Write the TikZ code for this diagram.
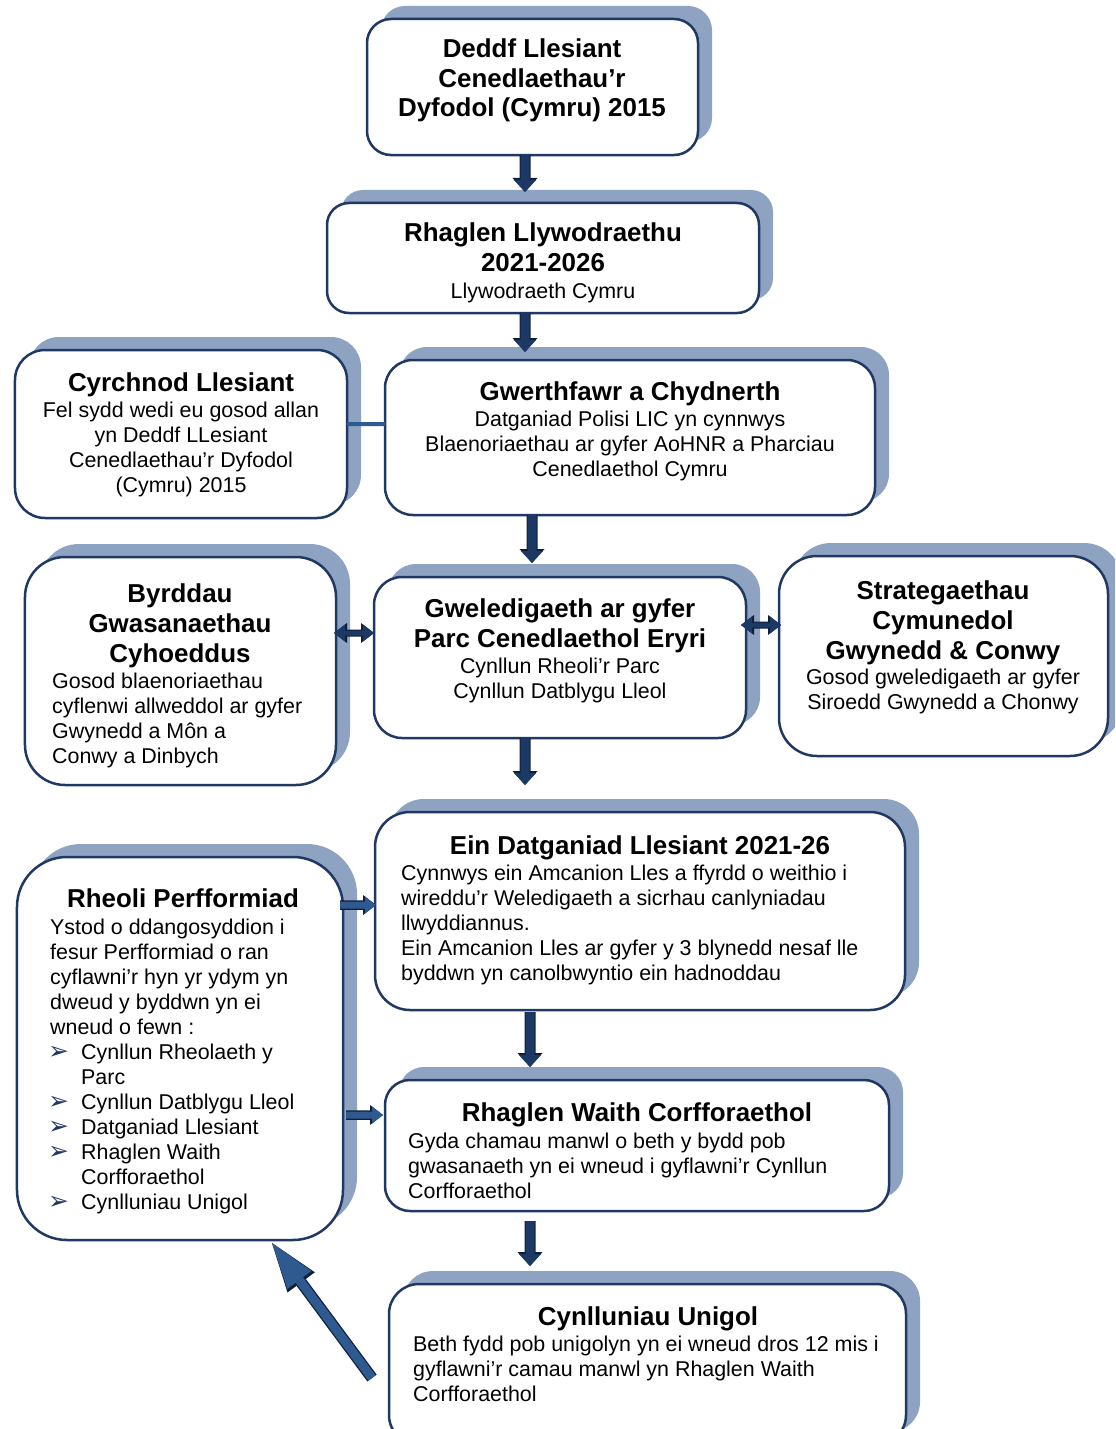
\documentclass[tikz,border=0pt]{standalone}
\usepackage{fontspec}
\setmainfont{Liberation Sans}
\newfontfamily\dejavu{DejaVu Sans}
\usetikzlibrary{arrows.meta,shadows}
\definecolor{framec}{HTML}{1F3864}
\definecolor{shadowc}{HTML}{8EA3C2}
\definecolor{navyarrow}{HTML}{1C3966}
\definecolor{bluearrow}{HTML}{2F5A8F}
\definecolor{outlinec}{HTML}{0F1E38}
\definecolor{linkc}{HTML}{2E5A94}
\tikzset{
  panel/.style={draw=framec, line width=2.5bp, fill=white, inner sep=0pt, outer sep=0pt,
    general shadow={fill=shadowc, shadow xshift=14bp, shadow yshift=13bp}},
  ttl/.style={font=\fontsize{26}{30}\selectfont\bfseries, align=center, inner sep=0pt, anchor=base},
  bodyc/.style={font=\fontsize{21.5}{25}\selectfont, align=center, inner sep=0pt, anchor=base},
  bodyl/.style={font=\fontsize{21.5}{25}\selectfont, align=left, inner sep=0pt, anchor=base west},
  bullets/.style={font=\fontsize{25}{25}\selectfont\dejavu, text=framec, align=left, inner sep=0pt, anchor=base west},
  navyarr/.style={draw=navyarrow, line width=9bp,
    -{Triangle[width=22bp,length=12bp,line width=0pt]},
    preaction={draw=outlinec, line width=11bp, -{Triangle[width=25bp,length=14bp,line width=0pt]}}},
  dblarr/.style={draw=navyarrow, line width=5bp,
    {Triangle[width=17bp,length=11bp,line width=0pt]}-{Triangle[width=17bp,length=11bp,line width=0pt]},
    preaction={draw=outlinec, line width=7bp, {Triangle[width=20bp,length=13bp,line width=0pt]}-{Triangle[width=20bp,length=13bp,line width=0pt]}}},
  bluearr/.style={draw=bluearrow, line width=7bp,
    -{Triangle[width=17bp,length=11bp,line width=0pt]},
    preaction={draw=outlinec, line width=9.5bp, -{Triangle[width=20bp,length=13bp,line width=0pt]}}},
  bigarr/.style={draw=bluearrow, line width=9bp,
    -{Triangle[width=30bp,length=46bp,line width=0pt]},
    preaction={draw=outlinec, line width=11.5bp, -{Triangle[width=34bp,length=49bp,line width=0pt]}}},
  linkline/.style={draw=linkc, line width=4bp},
}
\begin{document}
\begin{tikzpicture}[x=1bp,y=-1bp]
\useasboundingbox (0,0) rectangle (1115,1429);
\clip (0,0) rectangle (1115,1429);
\fill[white] (0,0) rectangle (1115,1429);

% panels
\node[panel, rounded corners=24bp, minimum width=331bp, minimum height=136bp] (deddf) at (532.5,87) {};
\node[panel, rounded corners=22bp, minimum width=432bp, minimum height=110bp] (rhag) at (543,258) {};
\node[panel, rounded corners=30bp, minimum width=332bp, minimum height=168bp] (cyrch) at (181,434) {};
\node[panel, rounded corners=28bp, minimum width=490bp, minimum height=155bp] (gwer) at (630,437.5) {};
\node[panel, rounded corners=40bp, minimum width=311bp, minimum height=228bp] (byrdd) at (180.5,671) {};
\node[panel, rounded corners=28bp, minimum width=372bp, minimum height=161bp] (gwel) at (560,657.5) {};
\node[panel, rounded corners=38bp, minimum width=329bp, minimum height=200bp] (strat) at (943.5,656) {};
\node[panel, rounded corners=35bp, minimum width=530bp, minimum height=198bp] (ein) at (640,911) {};
\node[panel, rounded corners=50bp, minimum width=326bp, minimum height=383bp] (rheoli) at (180,1048.5) {};
\node[panel, rounded corners=25bp, minimum width=504bp, minimum height=131bp] (waith) at (637,1145.5) {};
\node[panel, rounded corners=30bp, minimum width=517bp, minimum height=161bp] (cynll) at (647.5,1364.5) {};

% texts (anchor = baseline of the last line)
\node[ttl] (t1) at (532,117) {Deddf Llesiant\\Cenedlaethau’r\\Dyfodol (Cymru) 2015};
\node[ttl] (t2) at (543,271) {Rhaglen Llywodraethu\\2021-2026};
\node[bodyc] (b2) at (543,298) {Llywodraeth Cymru};
\node[ttl] (t3) at (181,391) {Cyrchnod Llesiant};
\node[bodyc] (b3) at (181,492) {Fel sydd wedi eu gosod allan\\yn Deddf LLesiant\\Cenedlaethau’r Dyfodol\\(Cymru) 2015};
\node[ttl] (t4) at (630,400) {Gwerthfawr a Chydnerth};
\node[bodyc] (b4) at (630,476) {Datganiad Polisi LIC yn cynnwys\\Blaenoriaethau ar gyfer AoHNR a Pharciau\\Cenedlaethol Cymru};
\node[ttl] (t5) at (180,662) {Byrddau\\Gwasanaethau\\Cyhoeddus};
\node[bodyl] (b5) at (52,763) {Gosod blaenoriaethau\\cyflenwi allweddol ar gyfer\\Gwynedd a Môn a\\Conwy a Dinbych};
\node[ttl] (t6) at (560,647) {Gweledigaeth ar gyfer\\Parc Cenedlaethol Eryri};
\node[bodyc] (b6) at (560,698) {Cynllun Rheoli’r Parc\\Cynllun Datblygu Lleol};
\node[ttl] (t7) at (943,659) {Strategaethau\\Cymunedol\\Gwynedd \& Conwy};
\node[bodyc] (b7) at (943,709) {Gosod gweledigaeth ar gyfer\\Siroedd Gwynedd a Chonwy};
\node[ttl] (t8) at (640,854) {Ein Datganiad Llesiant 2021-26};
\node[bodyl] (b8) at (401,980) {Cynnwys ein Amcanion Lles a ffyrdd o weithio i\\wireddu’r Weledigaeth a sicrhau canlyniadau\\llwyddiannus.\\Ein Amcanion Lles ar gyfer y 3 blynedd nesaf lle\\byddwn yn canolbwyntio ein hadnoddau};
\node[ttl] (t9) at (183,907) {Rheoli Perfformiad};
\node[bodyl] (b9) at (50,1034) {Ystod o ddangosyddion i\\fesur Perfformiad o ran\\cyflawni’r hyn yr ydym yn\\dweud y byddwn yn ei\\wneud o fewn :};
\node[bullets] (m9) at (48,1209) {➢\\\mbox{}\\➢\\➢\\➢\\\mbox{}\\➢};
\node[bodyl] (l9) at (81,1209) {Cynllun Rheolaeth y\\Parc\\Cynllun Datblygu Lleol\\Datganiad Llesiant\\Rhaglen Waith\\Corfforaethol\\Cynlluniau Unigol};
\node[ttl] (t10) at (637,1121) {Rhaglen Waith Corfforaethol};
\node[bodyl] (b10) at (408,1198) {Gyda chamau manwl o beth y bydd pob\\gwasanaeth yn ei wneud i gyflawni’r Cynllun\\Corfforaethol};
\node[ttl] (t11) at (648,1325) {Cynlluniau Unigol};
\node[bodyl] (b11) at (413,1401) {Beth fydd pob unigolyn yn ei wneud dros 12 mis i\\gyflawni’r camau manwl yn Rhaglen Waith\\Corfforaethol};

% connectors
\draw[linkline] ([yshift=10bp]cyrch.east) -- ([yshift=13.5bp]gwer.west);
\draw[navyarr] ([xshift=-7.5bp]deddf.south) -- ([xshift=-18bp,yshift=11bp]rhag.north);
\draw[navyarr] ([xshift=-18bp]rhag.south) -- ([xshift=-105bp,yshift=8bp]gwer.north);
\draw[navyarr] ([xshift=-98bp]gwer.south) -- ([xshift=-28bp,yshift=14bp]gwel.north);
\draw[navyarr] ([xshift=-35bp]gwel.south) -- ([xshift=-115bp,yshift=27bp]ein.north);
\draw[navyarr] ([xshift=-110bp,yshift=-2bp]ein.south) -- ([xshift=-107bp,yshift=13bp]waith.north);
\draw[navyarr] ([xshift=-107bp,yshift=-10bp]waith.south) -- ([xshift=-117.5bp,yshift=18bp]cynll.north);
\draw[dblarr] ([xshift=-2bp,yshift=38bp]byrdd.east) -- ([yshift=24.5bp]gwel.west);
\draw[dblarr] ([xshift=-5bp,yshift=32.5bp]gwel.east) -- ([xshift=2bp,yshift=31bp]strat.west);
\draw[bluearr] ([xshift=-3bp,yshift=143.5bp]rheoli.east) -- ([xshift=1bp,yshift=6bp]ein.west);
\draw[bluearr] ([xshift=3bp,yshift=-66.5bp]rheoli.east) -- ([xshift=-2bp,yshift=30.5bp]waith.west);
\draw[bigarr] ([xshift=-17bp,yshift=-13.5bp]cynll.west) -- ([xshift=92bp,yshift=-3bp]rheoli.south);
\end{tikzpicture}
\end{document}
